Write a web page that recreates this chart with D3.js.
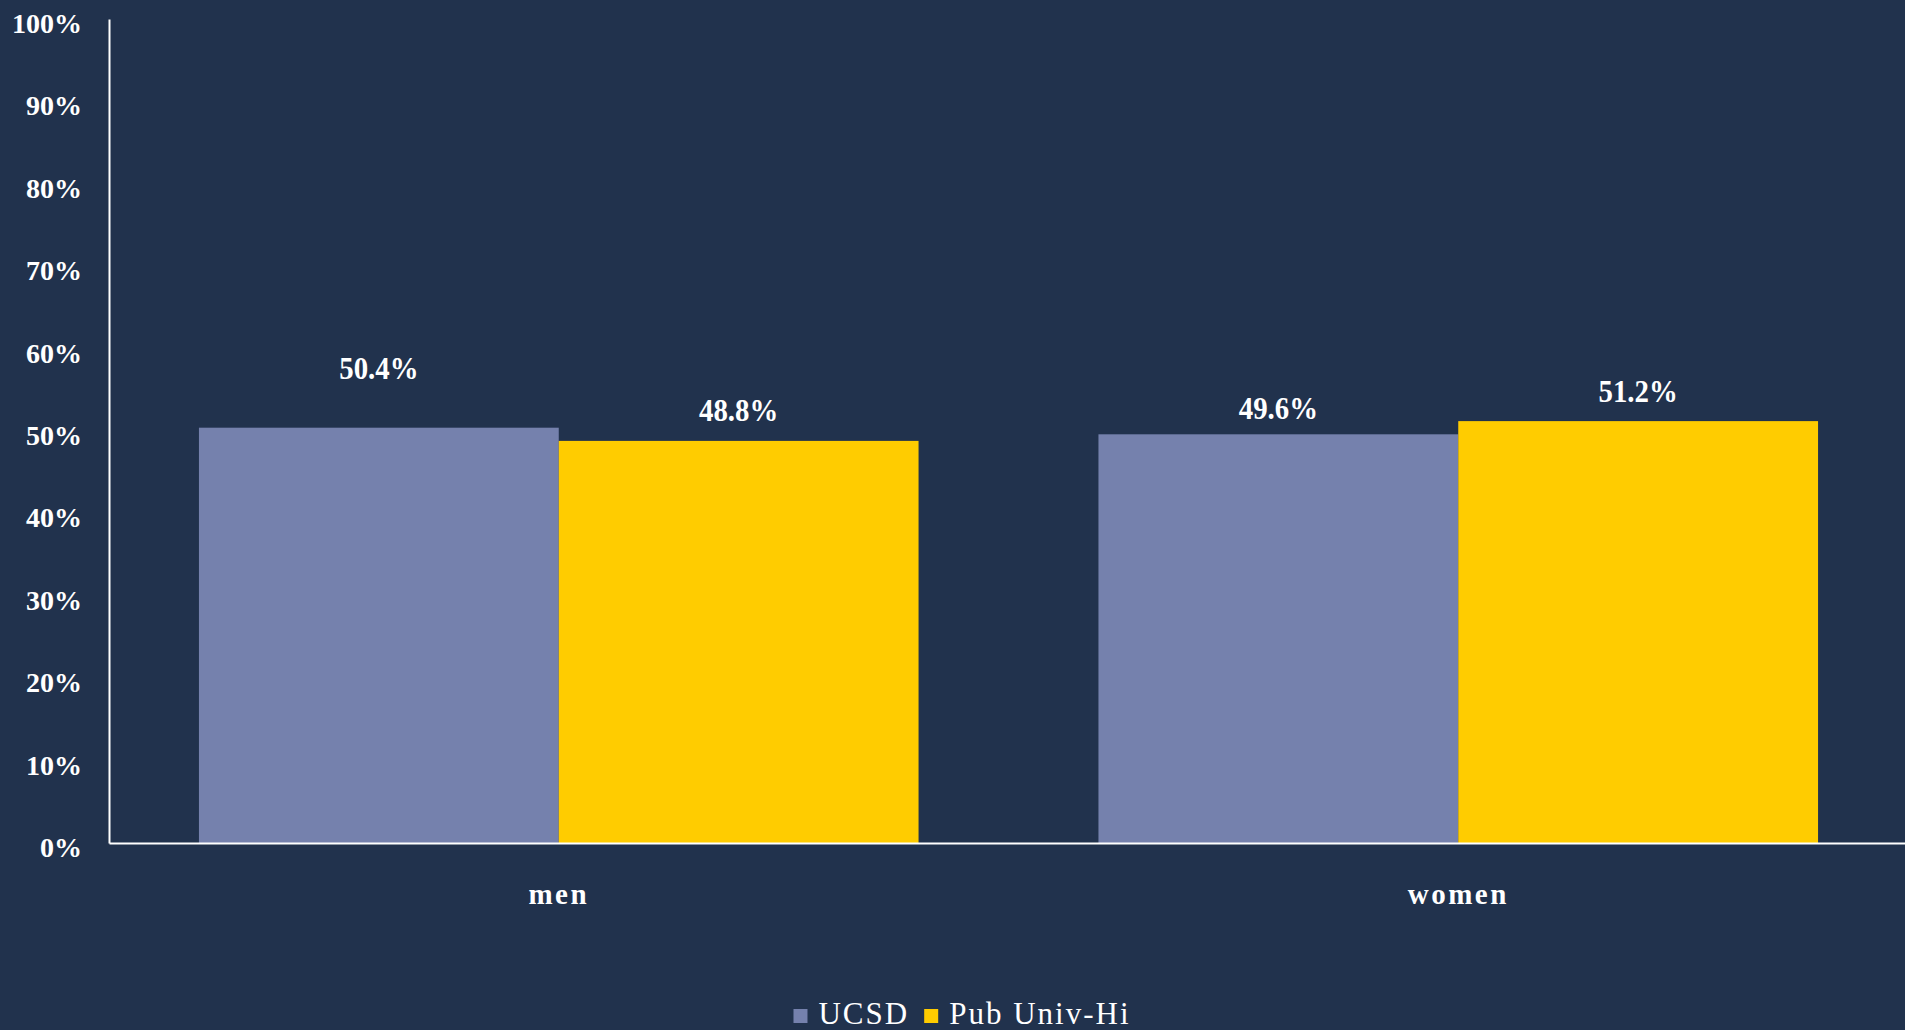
<!DOCTYPE html>
<html>
<head>
<meta charset="utf-8">
<script src="https://cdn.jsdelivr.net/npm/d3@7"></script>
<style>
  html, body { margin: 0; padding: 0; background: #21324d; overflow: hidden; }
  svg { display: block; }
</style>
</head>
<body>
<div id="chart"></div>
<script>
// data
const categories = ["men", "women"];
const seriesNames = ["UCSD", "Pub Univ-Hi"];
const ucsdValues = [0.504, 0.496];
const pubUnivValues = [0.488, 0.512];
const yTicks = [0, 0.1, 0.2, 0.3, 0.4, 0.5, 0.6, 0.7, 0.8, 0.9, 1.0];

// styling
const width = 1905;
const height = 1030;
const bgColor = "#21324d";
const seriesColors = ["#7581ad", "#ffcc00"];
const serif = "'Liberation Serif', 'Times New Roman', serif";
// manual data label lift above bar top (the original labels were nudged by hand)
const labelLift = [[49, 20], [15, 19]];

// plot area runs a touch past the right edge of the page, as in the original
const margin = { top: 19, right: -3, bottom: 187, left: 109 };

const svg = d3
  .select("#chart")
  .append("svg")
  .attr("width", width)
  .attr("height", height);

svg.append("rect")
  .attr("width", width)
  .attr("height", height)
  .attr("fill", bgColor);

const x0 = d3
  .scaleBand()
  .domain(categories)
  .range([margin.left, width - margin.right])
  .paddingInner(0.2)
  .paddingOuter(0.1);

const x1 = d3
  .scaleBand()
  .domain(seriesNames)
  .range([0, x0.bandwidth()]);

const y = d3
  .scaleLinear()
  .domain([0, 1])
  .range([height - margin.bottom, margin.top]);

const rows = categories.map(function(c, i) {
  return {
    category: c,
    values: [ucsdValues[i], pubUnivValues[i]]
  };
});

// bars
const groups = svg
  .selectAll(".cat")
  .data(rows)
  .enter()
  .append("g")
  .attr("class", "cat")
  .attr("transform", function(d) {
    return "translate(" + x0(d.category) + ",0)";
  });

groups
  .selectAll("rect")
  .data(function(d) {
    return d.values.map(function(v, j) {
      return { name: seriesNames[j], value: v, j: j };
    });
  })
  .enter()
  .append("rect")
  .attr("x", function(d) { return x1(d.name); })
  .attr("y", function(d) { return y(d.value); })
  .attr("width", x1.bandwidth())
  .attr("height", function(d) { return y(0) - y(d.value); })
  .attr("fill", function(d) { return seriesColors[d.j]; });

// data labels
groups.each(function(row, i) {
  d3.select(this)
    .selectAll(".val")
    .data(row.values)
    .enter()
    .append("text")
    .attr("class", "val")
    .attr("transform", function(v, j) {
      const cx = x1(seriesNames[j]) + x1.bandwidth() / 2;
      return "translate(" + cx + "," + (y(v) - labelLift[i][j]) + ") scale(0.9,1)";
    })
    .attr("text-anchor", "middle")
    .attr("font-family", serif)
    .attr("font-weight", "bold")
    .attr("font-size", 32)
    .attr("fill", "#ffffff")
    .text(function(v) { return d3.format(".1%")(v); });
});

// y axis
const yAxis = svg
  .append("g")
  .attr("transform", "translate(" + margin.left + ",0)")
  .call(
    d3.axisLeft(y)
      .tickValues(yTicks)
      .tickFormat(d3.format(".0%"))
      .tickSize(0)
      .tickPadding(27)
  );

yAxis.select(".domain")
  .attr("stroke", "#ffffff")
  .attr("stroke-width", 2);

yAxis.selectAll("text")
  .attr("font-family", serif)
  .attr("font-weight", "bold")
  .attr("font-size", 28)
  .attr("fill", "#ffffff")
  .attr("dy", "0.48em");

// x axis
const xAxis = svg
  .append("g")
  .attr("transform", "translate(0," + y(0) + ")")
  .call(d3.axisBottom(x0).tickSize(0).tickSizeOuter(0));

xAxis.select(".domain")
  .attr("stroke", "#ffffff")
  .attr("stroke-width", 2);

xAxis.selectAll("text")
  .attr("y", 61)
  .attr("dy", 0)
  .attr("font-family", serif)
  .attr("font-weight", "bold")
  .attr("font-size", 29)
  .attr("letter-spacing", 2.5)
  .attr("fill", "#ffffff");

// legend
const legend = svg.append("g").attr("class", "legend");
const legendBaseline = 1024;
const sw = 14;
let cursor = 0;
seriesNames.forEach(function(name, i) {
  const g = legend.append("g");
  g.append("rect")
    .attr("x", cursor)
    .attr("y", legendBaseline - 15)
    .attr("width", sw)
    .attr("height", sw)
    .attr("fill", seriesColors[i]);
  const t = g.append("text")
    .attr("x", cursor + sw + 11)
    .attr("y", legendBaseline)
    .attr("font-family", serif)
    .attr("font-size", 31)
    .attr("letter-spacing", 2)
    .attr("fill", "#ffffff")
    .text(name);
  cursor += sw + 11 + t.node().getComputedTextLength() + 15;
});
const legendWidth = cursor - 15;
legend.attr("transform", "translate(" + (962 - legendWidth / 2) + ",0)");
</script>
</body>
</html>
